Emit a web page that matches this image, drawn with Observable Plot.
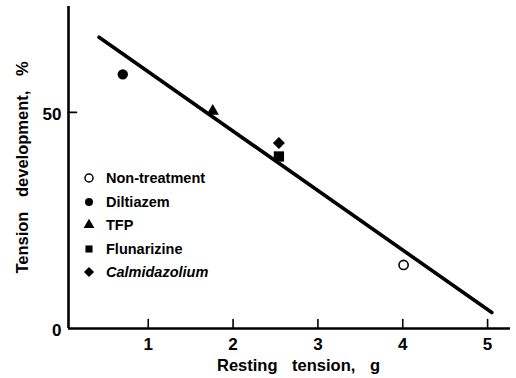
<!DOCTYPE html>
<html>
<head>
<meta charset="utf-8">
<script src="https://cdn.jsdelivr.net/npm/d3@7"></script>
<script src="https://cdn.jsdelivr.net/npm/@observablehq/plot@0.6"></script>
<style>
  html, body { margin: 0; padding: 0; background: #fff; }
  #wrap { position: relative; width: 516px; height: 378px; font-family: "Liberation Sans", Arial, Helvetica, sans-serif; }
  #wrap svg g[aria-label="text"] text { word-spacing: 10px; }
  .leg { position: absolute; left: 80px; height: 24px; display: flex; align-items: center; font-size: 14.5px; font-weight: bold; color: #000; white-space: nowrap; }
  .leg svg { display: block; margin-right: 8px; }
</style>
</head>
<body>
<div id="wrap"></div>
<script>
// ---- data ----
const seriesNames = ["Non-treatment", "Diltiazem", "TFP", "Flunarizine", "Calmidazolium"];
const restingTension = [4.01, 0.70, 1.76, 2.54, 2.54];      // g
const tensionDevelopment = [14.7, 58.8, 50.3, 39.8, 42.9];  // %
const seriesSymbols = ["circle", "circle", "triangle", "square", "diamond2"];
const seriesFilled = [false, true, true, true, true];
const fitX = [0.42, 5.05];
const fitY = [67.4, 3.7];
const xTicks = [1, 2, 3, 4, 5];
const yTicks = [0, 50];
const xLabel = "Resting tension, g";
const yLabel = "Tension development, %";

const xDomain = [0.06, 5.27];
const yDomain = [0, 74.5];

const points = seriesNames.map((name, i) => ({
  name, x: restingTension[i], y: tensionDevelopment[i], filled: seriesFilled[i]
}));
const fit = fitX.map((x, i) => ({x, y: fitY[i]}));

const tickUp = {draw(ctx, l) { ctx.moveTo(0, 0); ctx.lineTo(0, -l); }};

const symbolSize = {"Non-treatment": 4.6, "Diltiazem": 5.2, "TFP": 4.6, "Flunarizine": 5.8, "Calmidazolium": 5.4};

const chart = Plot.plot({
  width: 516,
  height: 378,
  marginLeft: 68,
  marginRight: 6,
  marginTop: 6,
  marginBottom: 50,
  style: {fontFamily: '"Liberation Sans", Arial, sans-serif', fontSize: "17px", fontWeight: "bold", color: "#000", background: "#fff"},
  x: {domain: xDomain},
  y: {domain: yDomain},
  r: {type: "identity"},
  symbol: {domain: seriesNames, range: seriesSymbols},
  marks: [
    Plot.axisX({ticks: xTicks, tickSize: 0, tickPadding: 9, label: null, tickFormat: d => String(d)}),
    Plot.axisY({ticks: yTicks, tickSize: 0, tickPadding: 7, label: null, dy: 2, tickFormat: d => String(d)}),
    Plot.vector(xTicks, {x: d => d, y: yDomain[0], length: 9, rotate: 0, anchor: "start", shape: tickUp, strokeWidth: 1.6, stroke: "#000"}),
    Plot.vector([50], {x: xDomain[0], y: d => d, length: 8, rotate: 90, anchor: "start", shape: tickUp, strokeWidth: 1.6, stroke: "#000"}),
    Plot.ruleY([yDomain[0]], {strokeWidth: 2.6, stroke: "#000"}),
    Plot.ruleX([xDomain[0]], {strokeWidth: 2.6, stroke: "#000"}),
    Plot.line(fit, {x: "x", y: "y", stroke: "#000", strokeWidth: 3.6, strokeLinecap: "round"}),
    Plot.dot(points.filter(d => d.filled), {x: "x", y: "y", symbol: "name", r: d => symbolSize[d.name], fill: "#000", stroke: "none"}),
    Plot.dot(points.filter(d => !d.filled), {x: "x", y: "y", symbol: "name", r: d => symbolSize[d.name], fill: "#fff", stroke: "#000", strokeWidth: 1.6}),
    Plot.text([xLabel], {text: d => d, frameAnchor: "bottom", textAnchor: "middle", dx: 9, dy: 42, lineAnchor: "bottom", fontSize: 16.5, fontWeight: "bold"}),
    Plot.text([yLabel], {text: d => d, frameAnchor: "left", textAnchor: "middle", dx: -41, rotate: -90, lineAnchor: "bottom", fontSize: 16.5, fontWeight: "bold"})
  ]
});
document.getElementById("wrap").appendChild(chart);

// legend
const d3Sym = {circle: d3.symbolCircle, triangle: d3.symbolTriangle, square: d3.symbolSquare, diamond2: d3.symbolDiamond2};
const wrap = document.getElementById("wrap");
seriesNames.forEach((name, i) => {
  const row = document.createElement("div");
  row.className = "leg";
  row.style.top = (178 + i * 23.5 - 12) + "px";
  const r = seriesSymbols[i] === "diamond2" ? 4.6 : 4;
  const path = d3.symbol(d3Sym[seriesSymbols[i]], Math.PI * r * r)();
  const svg = `<svg width="18" height="24"><path transform="translate(9,12)" d="${path}" fill="${seriesFilled[i] ? "#000" : "#fff"}" stroke="${seriesFilled[i] ? "none" : "#000"}" stroke-width="1.5"/></svg>`;
  row.innerHTML = svg + `<span style="${name === "Calmidazolium" ? "font-style:italic" : ""}">${name}</span>`;
  wrap.appendChild(row);
});
</script>
</body>
</html>
